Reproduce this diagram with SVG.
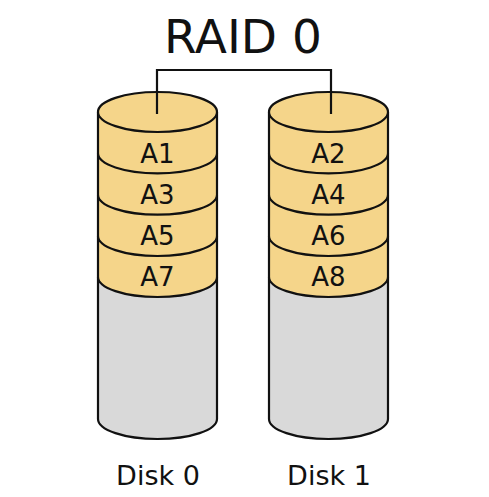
<svg xmlns="http://www.w3.org/2000/svg" width="489" height="497" viewBox="0 0 489 497">
<style>
.blk{fill:#f5d58a;stroke:#111;stroke-width:2.2;stroke-linejoin:round}
.free{fill:#d9d9d9;stroke:#111;stroke-width:2.2}
.lbl{font-family:"DejaVu Sans",sans-serif;font-size:26px;fill:#111;text-anchor:middle}
.cap{font-family:"DejaVu Sans",sans-serif;font-size:27px;fill:#111;text-anchor:middle}
.title{font-family:"DejaVu Sans",sans-serif;font-size:47px;fill:#111;text-anchor:middle}
.con{fill:none;stroke:#111;stroke-width:2.2}
</style>
<rect width="489" height="497" fill="#fff"/>
<text class="title" x="243" y="53">RAID 0</text>
<g id="disk0">
  <path class="free" d="M98,277 V419 A59.5,20 0 0 0 217,419 V277"/>
  <g id="A7"><path class="blk" d="M98,236 V277 A59.5,20 0 0 0 217,277 V236"/><text class="lbl" x="157.5" y="286">A7</text></g>
  <g id="A5"><path class="blk" d="M98,194.7 V236 A59.5,20 0 0 0 217,236 V194.7"/><text class="lbl" x="157.5" y="245">A5</text></g>
  <g id="A3"><path class="blk" d="M98,153.3 V194.7 A59.5,20 0 0 0 217,194.7 V153.3"/><text class="lbl" x="157.5" y="204">A3</text></g>
  <g id="A1"><path class="blk" d="M98,112 V153.3 A59.5,20 0 0 0 217,153.3 V112"/><text class="lbl" x="157.5" y="162.5">A1</text></g>
  <ellipse class="blk" cx="157.5" cy="112" rx="59.5" ry="20"/>
  <text class="cap" x="158" y="485">Disk 0</text>
</g>
<g id="disk1">
  <path class="free" d="M269,277 V419 A59.5,20 0 0 0 388,419 V277"/>
  <g id="A8"><path class="blk" d="M269,236 V277 A59.5,20 0 0 0 388,277 V236"/><text class="lbl" x="328.5" y="286">A8</text></g>
  <g id="A6"><path class="blk" d="M269,194.7 V236 A59.5,20 0 0 0 388,236 V194.7"/><text class="lbl" x="328.5" y="245">A6</text></g>
  <g id="A4"><path class="blk" d="M269,153.3 V194.7 A59.5,20 0 0 0 388,194.7 V153.3"/><text class="lbl" x="328.5" y="204">A4</text></g>
  <g id="A2"><path class="blk" d="M269,112 V153.3 A59.5,20 0 0 0 388,153.3 V112"/><text class="lbl" x="328.5" y="162.5">A2</text></g>
  <ellipse class="blk" cx="328.5" cy="112" rx="59.5" ry="20"/>
  <text class="cap" x="329" y="485">Disk 1</text>
</g>
<g id="connectors">
  <path class="con" d="M157,114 V70 H331 V114"/>
</g>
</svg>
